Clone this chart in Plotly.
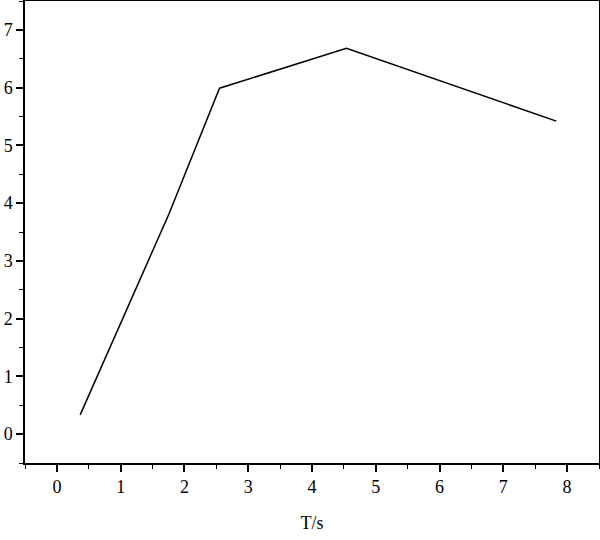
import plotly.graph_objects as go

t_values = [0.365, 1.76, 2.55, 4.54, 7.83]
y_values = [0.334, 3.82, 5.99, 6.68, 5.42]

x_ticks = [0, 1, 2, 3, 4, 5, 6, 7, 8]
y_ticks = [0, 1, 2, 3, 4, 5, 6, 7]

fig = go.Figure()
fig.add_trace(go.Scatter(x=t_values, y=y_values, mode="lines",
                         line=dict(color="black", width=1.5), showlegend=False))

font = dict(family="Liberation Serif", size=18, color="black")

fig.update_layout(
    width=600, height=540,
    margin=dict(l=25, r=1, t=1, b=77, autoexpand=False),
    paper_bgcolor="white", plot_bgcolor="white",
    font=font,
    xaxis=dict(
        range=[-0.5, 8.5], tickvals=x_ticks, ticktext=[str(v) for v in x_ticks],
        showline=True, linecolor="black", linewidth=1.5, mirror=True,
        ticks="outside", ticklen=7, tickwidth=1.5, tickcolor="black",
        minor=dict(dtick=0.5, ticks="outside", ticklen=4, tickwidth=1.2, tickcolor="black"),
        showgrid=False, zeroline=False, automargin=False,
        title=dict(text="T/s", font=font, standoff=20),
        tickfont=font,
    ),
    yaxis=dict(
        range=[-0.5, 7.5], tickvals=y_ticks, ticktext=[str(v) for v in y_ticks],
        showline=True, linecolor="black", linewidth=1.5, mirror=True,
        ticks="outside", ticklen=7, tickwidth=1.5, tickcolor="black",
        minor=dict(dtick=0.5, ticks="outside", ticklen=4, tickwidth=1.2, tickcolor="black"),
        showgrid=False, zeroline=False, automargin=False,
        tickfont=font,
    ),
)

fig.write_html("out.html", config={"displayModeBar": False},
               post_script="document.body.style.margin='0';")
